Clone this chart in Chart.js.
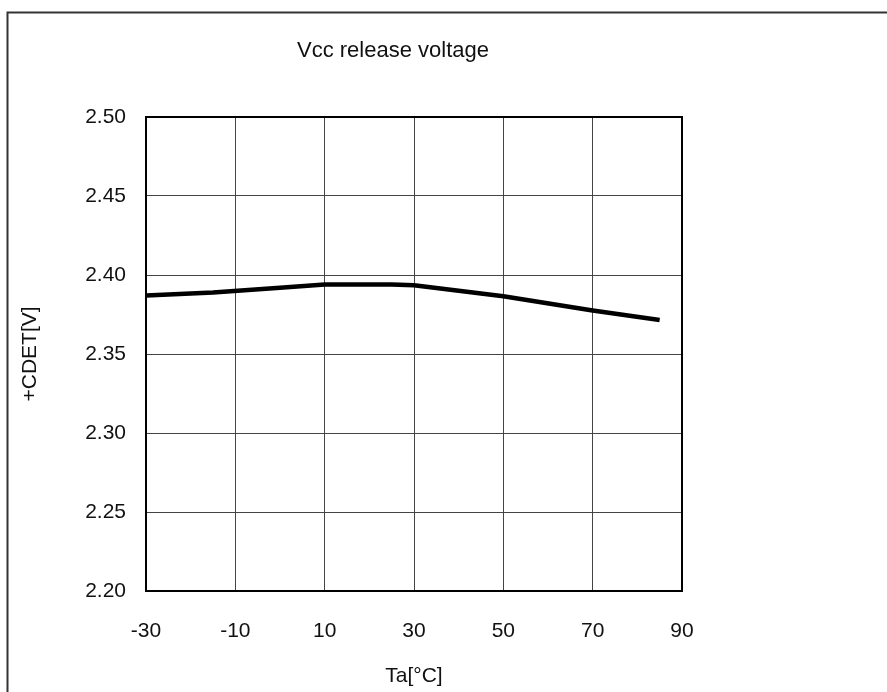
<!DOCTYPE html>
<html>
<head>
<meta charset="utf-8">
<script src="https://cdn.jsdelivr.net/npm/chart.js@4/dist/chart.umd.min.js"></script>
<style>
  body { margin: 0; background: #fff; }
  #wrap { width: 887px; height: 692px; position: relative; }
</style>
</head>
<body>
<div id="wrap"><canvas id="chart" width="887" height="692"></canvas></div>
<script>
// Dados
const temperatures = [-30, -15, 0, 10, 25, 30, 40, 50, 70, 85];
const releaseVoltage = [2.387, 2.389, 2.392, 2.394, 2.394, 2.3935, 2.390, 2.3865, 2.3775, 2.3715];
const xTicks = [-30, -10, 10, 30, 50, 70, 90];
const yTicks = [2.20, 2.25, 2.30, 2.35, 2.40, 2.45, 2.50];
const chartTitle = 'Vcc release voltage';
const xTitle = 'Ta[°C]';
const yTitle = '+CDET[V]';

const FONT = '"Liberation Sans", Arial, sans-serif';

// Moldura externa, título e borda da área do gráfico
const framePlugin = {
    id: 'frame',
    beforeDraw(chart) {
        const ctx = chart.ctx;
        ctx.save();
        ctx.fillStyle = '#fff';
        ctx.fillRect(0, 0, chart.width, chart.height);
        ctx.strokeStyle = '#333';
        ctx.lineWidth = 2;
        ctx.beginPath();
        ctx.moveTo(7.5, chart.height + 2);
        ctx.lineTo(7.5, 12.5);
        ctx.lineTo(chart.width + 2, 12.5);
        ctx.stroke();
        ctx.fillStyle = '#111';
        ctx.font = '22px ' + FONT;
        ctx.textAlign = 'center';
        ctx.textBaseline = 'middle';
        ctx.fillText(chartTitle, 393, 51);
        ctx.restore();
    },
    afterDatasetsDraw(chart) {
        const a = chart.chartArea;
        const ctx = chart.ctx;
        ctx.save();
        ctx.strokeStyle = '#000';
        ctx.lineWidth = 2;
        ctx.strokeRect(a.left, a.top, a.right - a.left, a.bottom - a.top);
        ctx.restore();
    }
};

const ctx = document.getElementById('chart').getContext('2d');
new Chart(ctx, {
    type: 'line',
    data: {
        labels: temperatures,
        datasets: [{
            data: temperatures.map((t, i) => ({ x: t, y: releaseVoltage[i] })),
            borderColor: '#000',
            borderWidth: 4.5,
            pointRadius: 0,
            tension: 0,
            fill: false
        }]
    },
    options: {
        responsive: false,
        animation: false,
        layout: { padding: { top: 117, right: 205, left: 0, bottom: 0 } },
        plugins: { legend: { display: false }, tooltip: { enabled: false } },
        scales: {
            x: {
                type: 'linear',
                min: -30,
                max: 90,
                afterBuildTicks: s => { s.ticks = xTicks.map(v => ({ value: v })); },
                afterFit: s => { s.height = 101; },
                grid: { color: '#444', lineWidth: 1, drawTicks: false },
                border: { display: false },
                ticks: { color: '#111', font: { family: FONT, size: 21 }, padding: 28 },
                title: { display: true, text: xTitle, color: '#111', font: { family: FONT, size: 21 }, padding: { top: 0, bottom: 3 } }
            },
            y: {
                min: 2.20,
                max: 2.50,
                afterBuildTicks: s => { s.ticks = yTicks.map(v => ({ value: v })); },
                afterFit: s => { s.width = 146; },
                grid: { color: '#444', lineWidth: 1, drawTicks: false },
                border: { display: false },
                ticks: {
                    color: '#111',
                    font: { family: FONT, size: 21 },
                    padding: 20,
                    callback: v => v.toFixed(2)
                },
                title: { display: true, text: yTitle, color: '#111', font: { family: FONT, size: 21 }, padding: { top: 18, bottom: 0 } }
            }
        }
    },
    plugins: [framePlugin]
});
</script>
</body>
</html>
